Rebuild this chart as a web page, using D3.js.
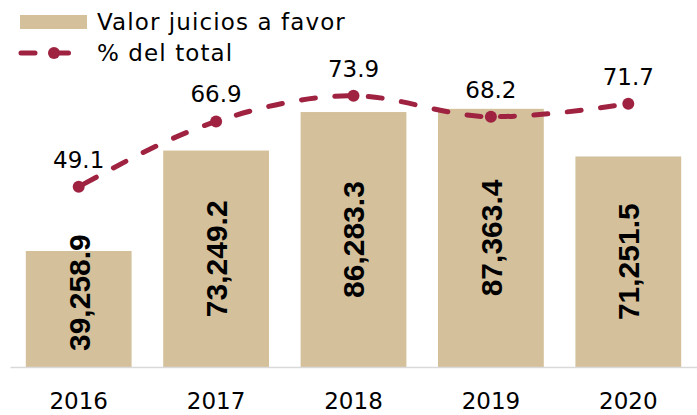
<!DOCTYPE html>
<html>
<head>
<meta charset="utf-8">
<script src="https://cdn.jsdelivr.net/npm/d3@7"></script>
<style>
  body { margin: 0; background: #fff; }
  text { font-family: "DejaVu Sans", sans-serif; }
</style>
</head>
<body>
<div id="chart"></div>
<script>
var years = ["2016", "2017", "2018", "2019", "2020"],
    valorJuicios = [39258.9, 73249.2, 86283.3, 87363.4, 71251.5], // bars
    pctTotal = [49.1, 66.9, 73.9, 68.2, 71.7],                    // line
    barName = "Valor juicios a favor",
    lineName = "% del total";

var w = 697, h = 415,
    barColor = "#D4C19C", lineColor = "#9F2241";

var svg = d3.select("#chart")
    .append("svg")
    .attr("width", w)
    .attr("height", h);

var base = 367;

var x = d3.scaleBand().domain(years).range([10, w])
    .paddingInner(0.23).paddingOuter(0.115);
var yBar = d3.scaleLinear().domain([0, 100000]).range([base, 71.5]);
var yLine = d3.scaleLinear().domain([0, 100]).range([base, 0]);

// bars
svg.selectAll(".bar")
  .data(years)
  .enter().append("rect")
    .attr("class", "bar")
    .attr("fill", barColor)
    .attr("x", function(d) { return x(d); })
    .attr("y", function(d, i) { return yBar(valorJuicios[i]); })
    .attr("width", x.bandwidth())
    .attr("height", function(d, i) { return base - yBar(valorJuicios[i]); });

// x axis
var axis = svg.append("g")
    .attr("transform", "translate(0," + base + ")")
    .call(d3.axisBottom(x).tickSizeInner(0).tickSizeOuter(0).tickPadding(26));
axis.select(".domain").attr("stroke", "#d9d9d9").attr("stroke-width", 1.5);
axis.selectAll("text")
    .attr("fill", "#000")
    .style("font-family", "DejaVu Sans, sans-serif")
    .style("font-size", "23px");

// bar value labels (rotated, centered in the bar)
var fmt = d3.format(",.1f");
svg.selectAll(".barlabel")
  .data(years)
  .enter().append("text")
    .attr("class", "barlabel")
    .attr("text-anchor", "start")
    .attr("dy", "0.36em")
    .style("font-family", "'Liberation Sans', Arial, sans-serif")
    .style("font-weight", "bold")
    .style("font-size", "30px")
    .attr("fill", "#000")
    .text(function(d, i) { return fmt(valorJuicios[i]); })
    .each(function(d, i) {
      var len = this.getComputedTextLength();
      var mid = (yBar(valorJuicios[i]) + base) / 2;
      var bottom = Math.min(mid + len / 2, base - 16);
      d3.select(this).attr("transform",
        "translate(" + (x(d) + x.bandwidth() / 2) + "," + bottom + ") rotate(-90)");
    });

// line
var line = d3.line()
    .x(function(d, i) { return x(years[i]) + x.bandwidth() / 2; })
    .y(function(d) { return yLine(d); })
    .curve(d3.curveMonotoneX);

svg.append("path")
    .datum(pctTotal)
    .attr("fill", "none")
    .attr("stroke", lineColor)
    .attr("stroke-width", 5)
    .attr("stroke-linecap", "round")
    .attr("stroke-dasharray", "14,19.5")
    .attr("stroke-dashoffset", -6)
    .attr("d", line);

svg.selectAll(".dot")
  .data(pctTotal)
  .enter().append("circle")
    .attr("fill", lineColor)
    .attr("cx", function(d, i) { return x(years[i]) + x.bandwidth() / 2; })
    .attr("cy", function(d) { return yLine(d); })
    .attr("r", 6);

svg.selectAll(".pctlabel")
  .data(pctTotal)
  .enter().append("text")
    .attr("text-anchor", "middle")
    .attr("fill", "#000")
    .style("font-size", "23px")
    .attr("x", function(d, i) { return x(years[i]) + x.bandwidth() / 2; })
    .attr("y", function(d) { return yLine(d) - 19; })
    .text(function(d) { return d.toFixed(1); });

// legend
var legend = svg.append("g").attr("class", "legend");
legend.append("rect")
    .attr("x", 20).attr("y", 15)
    .attr("width", 67).attr("height", 14)
    .attr("fill", barColor);
legend.append("text")
    .attr("x", 97).attr("y", 30)
    .attr("fill", "#000")
    .style("font-size", "23px")
    .style("letter-spacing", "1.1px")
    .text(barName);
legend.append("line")
    .attr("x1", 21).attr("x2", 88)
    .attr("y1", 53).attr("y2", 53)
    .attr("stroke", lineColor)
    .attr("stroke-width", 5)
    .attr("stroke-linecap", "round")
    .attr("stroke-dasharray", "14,19.5");
legend.append("circle")
    .attr("cx", 54).attr("cy", 53).attr("r", 6)
    .attr("fill", lineColor);
legend.append("text")
    .attr("x", 97).attr("y", 61)
    .attr("fill", "#000")
    .style("font-size", "23px")
    .style("letter-spacing", "1.1px")
    .text(lineName);
</script>
</body>
</html>
